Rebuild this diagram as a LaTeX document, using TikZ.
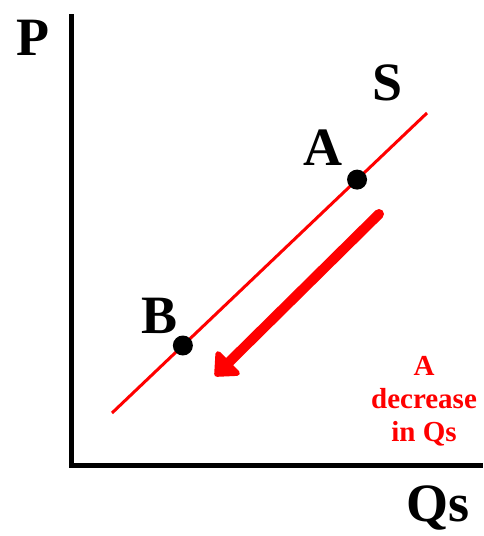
\documentclass[tikz,border=0pt]{standalone}
\usepackage{fontspec}
\setmainfont{Liberation Serif}
\usetikzlibrary{arrows.meta,calc}
\begin{document}
\begin{tikzpicture}[x=1pt,y=-1pt,
  axis/.style={line width=5pt,black},
  curve/.style={line width=3pt,red},
  pointdot/.style={circle,fill=black,minimum size=20pt,inner sep=0pt},
  biglabel/.style={font=\fontsize{54}{60}\selectfont\bfseries,anchor=base,inner sep=0pt},
  shiftarrow/.style={line width=10pt,red,line cap=round,-{Triangle[length=22pt,width=38pt,round]}},
  note/.style={font=\fontsize{29}{33}\selectfont\bfseries,text=red,align=center,anchor=north,inner sep=0pt}]
\useasboundingbox (0,0) rectangle (483,536);
% axes
\coordinate (top) at (71,14);
\coordinate (origin) at (71,465);
\coordinate (right) at (483,465);
\draw[axis] (top) -- (origin) -- (right);
% supply line
\coordinate (s0) at (112,413);
\coordinate (s1) at (427,113);
\draw[curve] (s0) -- (s1);
\node[pointdot] (A) at ($(s0)!0.778!(s1)$) {};
\node[pointdot] (B) at ($(s0)!0.225!(s1)$) {};
% labels
\node[biglabel] (Plab) at (33,55) {P};
\node[biglabel] (Qlab) at (438,521) {Qs};
\node[biglabel] (Slab) at (388,100) {S};
\node[biglabel] (Alab) at (323,165) {A};
\node[biglabel] (Blab) at (160,333) {B};
% arrow
\coordinate (a0) at (379,214);
\coordinate (a1) at (215,376);
\draw[shiftarrow] (a0) -- (a1);
\node[note] (txt) at (424,356) {A\\decrease\\in Qs};
\end{tikzpicture}
\end{document}
